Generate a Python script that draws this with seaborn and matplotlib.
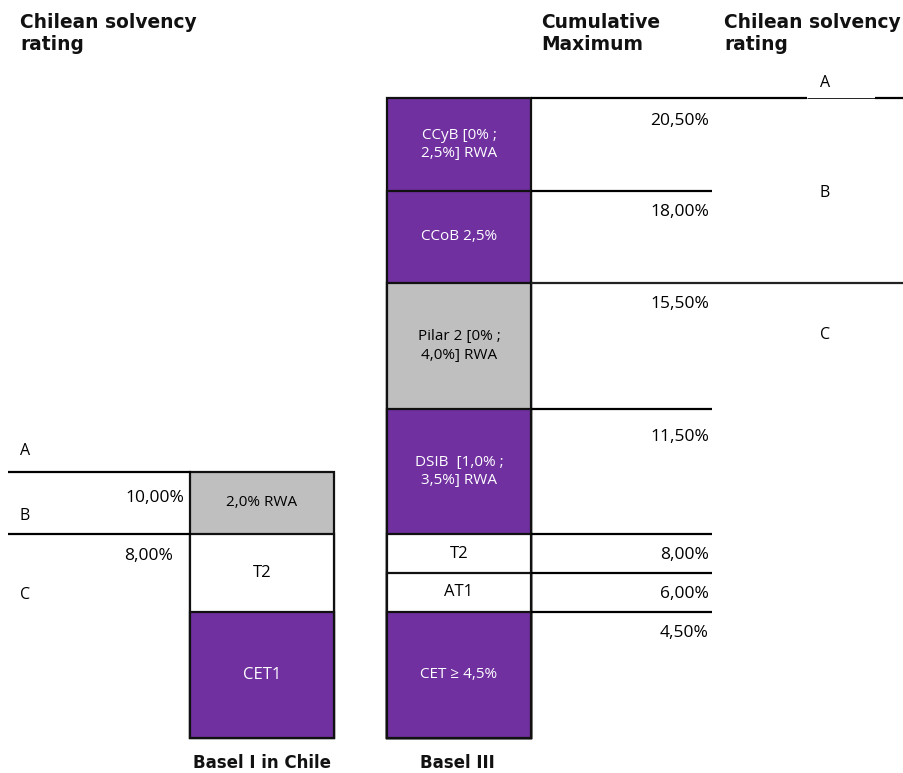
import numpy as np
import matplotlib
matplotlib.use("Agg")
import matplotlib.pyplot as plt
import seaborn as sns

# ---- data -------------------------------------------------------------
schemes = ["Basel I in Chile", "Basel III"]

basel1_labels = ["CET1", "T2", "2,0% RWA"]
basel1_tops = [4.5, 8.0, 10.0]          # cumulative % of RWA
basel1_kind = ["core", "plain", "gray"]

basel3_labels = ["CET ≥ 4,5%", "AT1", "T2", "DSIB  [1,0% ;\n3,5%] RWA",
                 "Pilar 2 [0% ;\n4,0%] RWA", "CCoB 2,5%", "CCyB [0% ;\n2,5%] RWA"]
basel3_tops = [4.5, 6.0, 8.0, 11.5, 15.5, 18.0, 20.5]
basel3_kind = ["core", "plain", "plain", "core", "gray", "core", "core"]
cumulative_labels = ["4,50%", "6,00%", "8,00%", "11,50%", "15,50%", "18,00%", "20,50%"]

basel1_marks = [10.0, 8.0]
basel1_mark_labels = ["10,00%", "8,00%"]

rating_letters = ["A", "B", "C"]
basel3_rating_cuts = [20.5, 15.5]

# ---- style ------------------------------------------------------------
sns.set_theme(style="white")
plt.rcParams["font.family"] = ["Open Sans", "DejaVu Sans"]
plt.rcParams["text.color"] = "black"

fills = {"core": "#7030A0", "plain": "#FFFFFF", "gray": "#BFBFBF"}
inks = {"core": "#FFFFFF", "plain": "#000000", "gray": "#000000"}
label_size = {"CET1": 12, "T2": 12, "AT1": 12}

W, H = 904, 773
fig = plt.figure(figsize=(W / 100, H / 100), dpi=100)
ax = fig.add_axes([0, 0, 1, 1])

# schematic (piecewise-linear) vertical scale for the capital stack
V = [-20, 0, 4.5, 6, 8, 10, 11.5, 15.5, 18, 20.5, 40]
D = [35 - 560, 35, 161, 200, 239, 301, 364, 490, 582, 675, 1396]


def fwd(v):
    return np.interp(v, V, D)


def inv(d):
    return np.interp(d, D, V)


ax.set_yscale("function", functions=(fwd, inv))

# ---- stacked bars: draw cumulative tops from tallest to shortest ----------
segments = []
for i, (labels, tops, kinds) in enumerate([(basel1_labels, basel1_tops, basel1_kind),
                                           (basel3_labels, basel3_tops, basel3_kind)]):
    bottoms = [0.0] + tops[:-1]
    for lab, b, t, k in zip(labels, bottoms, tops, kinds):
        segments.append((i, lab, b, t, k))

for i, lab, b, t, k in sorted(segments, key=lambda s: -s[3]):
    sns.barplot(x=[schemes[i]], y=[t], order=schemes, color=fills[k],
                saturation=1, edgecolor="#111111", linewidth=1.6,
                width=0.73, errorbar=None, ax=ax)

for i, lab, b, t, k in segments:
    ymid = inv((fwd(b) + fwd(t)) / 2)
    ax.text(i, ymid, lab, ha="center", va="center", color=inks[k],
            fontsize=label_size.get(lab, 11), linespacing=1.35)

ax.set_xlim(-262 / 197, (W - 262) / 197)
ax.set_ylim(inv(0), inv(H))
ax.axis("off")

ytr = ax.get_yaxis_transform()
fx = lambda px: px / W
fy = lambda py: 1 - py / H

# ---- cumulative maximum lines and labels (Basel III) -------------------
offsets = {11.5: -28, 20.5: -23}
for t, lab in zip(basel3_tops, cumulative_labels):
    if t == 20.5:
        ax.hlines(t, fx(531), fx(807), transform=ytr, color="black", lw=1.6)
        ax.hlines(t, fx(807), fx(875), transform=ytr, color="black", lw=0.6)
        ax.hlines(t, fx(875), fx(W), transform=ytr, color="black", lw=1.6)
    elif t in basel3_rating_cuts:
        ax.hlines(t, fx(531), fx(W), transform=ytr, color="#222222", lw=1.6)
    else:
        ax.hlines(t, fx(531), fx(712), transform=ytr, color="black", lw=1.6)
    ax.annotate(lab, xy=(fx(709), t), xycoords=ytr,
                xytext=(0, offsets.get(t, -21)), textcoords="offset pixels",
                ha="right", va="center", fontsize=12.5)

# ---- Basel I thresholds ----------------------------------------------
for m, lab, xr, off in zip(basel1_marks, basel1_mark_labels, [184, 173], [-26, -22]):
    ax.hlines(m, fx(8), fx(191), transform=ytr, color="black", lw=1.6)
    ax.annotate(lab, xy=(fx(xr), m), xycoords=ytr,
                xytext=(0, off), textcoords="offset pixels",
                ha="right", va="center", fontsize=12.5)

# ---- rating letters ----------------------------------------------------
for letter, py in zip(rating_letters, [451, 516, 595]):
    ax.text(fx(20), fy(py), letter, transform=ax.transAxes,
            ha="left", va="center", fontsize=11.5)
for letter, py in zip(rating_letters, [83, 193, 335]):
    ax.text(fx(825), fy(py), letter, transform=ax.transAxes,
            ha="center", va="center", fontsize=11.5)

# ---- headers and scheme names ------------------------------------------
bold = dict(fontweight="bold", fontsize=13.4, family=["DejaVu Sans"],
            transform=ax.transAxes, ha="left", va="top", color="#111111")
ax.text(fx(20), fy(13), "Chilean solvency\nrating", **bold)
ax.text(fx(541), fy(13), "Cumulative\nMaximum", **bold)
ax.text(fx(724), fy(13), "Chilean solvency\nrating", **bold)

xtr = ax.get_xaxis_transform()
for i, name in enumerate(schemes):
    ax.text(i - 0.01 * i, fy(763), name, transform=xtr, ha="center", va="center",
            fontweight="bold", fontsize=12, family=["DejaVu Sans"], color="#111111")

fig.savefig("out.png", dpi=100)
